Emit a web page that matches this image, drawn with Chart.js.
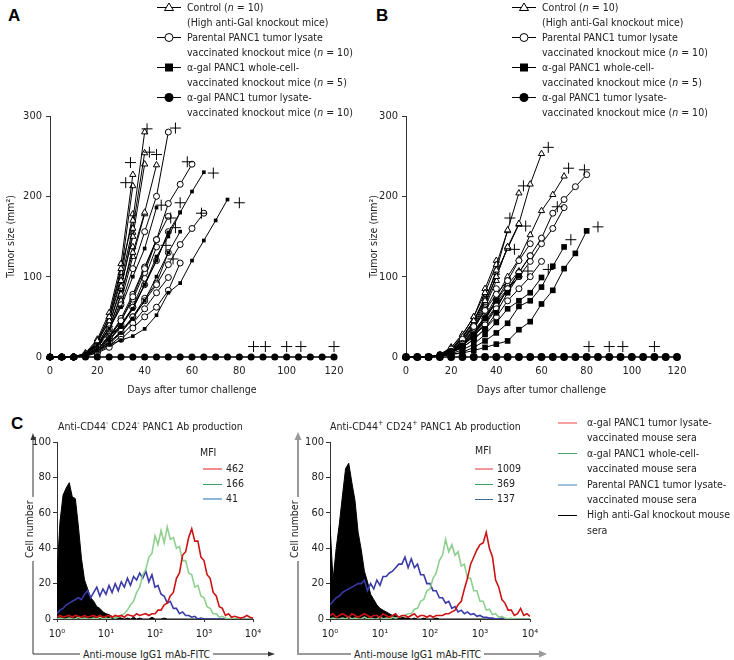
<!DOCTYPE html>
<html>
<head>
<meta charset="utf-8">
<script src="https://cdn.jsdelivr.net/npm/chart.js@4.4.1/dist/chart.umd.min.js"></script>
<style>
  body { margin:0; width:734px; height:660px; position:relative; overflow:hidden; background:#fff;
         font-family:'DejaVu Sans Condensed', 'DejaVu Sans', sans-serif; font-stretch:condensed; color:#222; }
  canvas, .abs { position:absolute; }
  .panel { font:bold 17px 'Liberation Sans', Arial, sans-serif; color:#000; }
  .legend { font-size:10.5px; line-height:15px; white-space:nowrap; }
  .legend .row { display:flex; }
  .legend svg { flex:none; margin-right:6px; }
  .small { font-size:10.5px; line-height:12px; white-space:nowrap; }
  .sw { display:inline-block; height:2px; vertical-align:middle; }
  .sleg { font-size:10.5px; line-height:15.4px; white-space:nowrap; }
  .sleg .sw { width:19px; margin-right:10px; }
  .bg { background:#fff; padding:0 3px; }
</style>
</head>
<body>

<div class="abs panel" style="left:8px;top:6px">A</div>
<div class="abs panel" style="left:376px;top:6px">B</div>
<div class="abs panel" style="left:11px;top:414px">C</div>

<canvas id="chartA" width="367" height="400" style="left:0;top:0"></canvas>
<canvas id="chartB" width="367" height="400" style="left:367px;top:0"></canvas>
<canvas id="histL" width="290" height="215" style="left:0;top:430px"></canvas>
<canvas id="histR" width="290" height="215" style="left:273px;top:430px"></canvas>

<div class="abs legend" style="left:157px;top:0">
  <div class="row"><svg width="24" height="15"><path d="M0 7.5H24" stroke="#000"/><polygon points="12,3 16.5,10.5 7.5,10.5" fill="#fff" stroke="#000"/></svg><div>Control (<i>n</i> = 10)<br>(High anti-Gal knockout mice)</div></div>
  <div class="row"><svg width="24" height="15"><path d="M0 7.5H24" stroke="#000"/><circle cx="12" cy="7.5" r="4" fill="#fff" stroke="#000"/></svg><div>Parental PANC1 tumor lysate<br>vaccinated knockout mice (<i>n</i> = 10)</div></div>
  <div class="row"><svg width="24" height="15"><path d="M0 7.5H24" stroke="#000"/><rect x="8" y="3.5" width="8" height="8" fill="#000"/></svg><div>α-gal PANC1 whole-cell-<br>vaccinated knockout mice (<i>n</i> = 5)</div></div>
  <div class="row"><svg width="24" height="15"><path d="M0 7.5H24" stroke="#000"/><circle cx="12" cy="7.5" r="4.5" fill="#000"/></svg><div>α-gal PANC1 tumor lysate-<br>vaccinated knockout mice (<i>n</i> = 10)</div></div>
</div>

<div class="abs legend" style="left:512px;top:0">
  <div class="row"><svg width="24" height="15"><path d="M0 7.5H24" stroke="#000"/><polygon points="12,3 16.5,10.5 7.5,10.5" fill="#fff" stroke="#000"/></svg><div>Control (<i>n</i> = 10)<br>(High anti-Gal knockout mice)</div></div>
  <div class="row"><svg width="24" height="15"><path d="M0 7.5H24" stroke="#000"/><circle cx="12" cy="7.5" r="4" fill="#fff" stroke="#000"/></svg><div>Parental PANC1 tumor lysate<br>vaccinated knockout mice (<i>n</i> = 10)</div></div>
  <div class="row"><svg width="24" height="15"><path d="M0 7.5H24" stroke="#000"/><rect x="8" y="3.5" width="8" height="8" fill="#000"/></svg><div>α-gal PANC1 whole-cell-<br>vaccinated knockout mice (<i>n</i> = 5)</div></div>
  <div class="row"><svg width="24" height="15"><path d="M0 7.5H24" stroke="#000"/><circle cx="12" cy="7.5" r="4.5" fill="#000"/></svg><div>α-gal PANC1 tumor lysate-<br>vaccinated knockout mice (<i>n</i> = 10)</div></div>
</div>

<!-- arrows of panel C -->
<svg class="abs" style="left:0;top:0" width="734" height="660">
  <path d="M33 440V654H268" stroke="#333" stroke-width="1" fill="none"/>
  <path d="M33 433l-2.5 7h5z" fill="#333"/>
  <path d="M275 654l-7-2.5v5z" fill="#333"/>
  <path d="M298 440V654H540" stroke="#999" stroke-width="2" fill="none"/>
  <path d="M298 432l-3.5 8h7z" fill="#999"/>
  <path d="M547 654l-8-3.5v7z" fill="#999"/>
</svg>

<div class="abs small" style="left:58px;top:417px">Anti-CD44<sup style="font-size:7px">-</sup> CD24<sup style="font-size:7px">-</sup> PANC1 Ab production</div>
<div class="abs small" style="left:330px;top:417px">Anti-CD44<sup style="font-size:7px">+</sup> CD24<sup style="font-size:7px">+</sup> PANC1 Ab production</div>

<div class="abs small bg" style="left:-2px;top:524px;transform:rotate(-90deg);transform-origin:31px 6px">Cell number</div>
<div class="abs small bg" style="left:263px;top:524px;transform:rotate(-90deg);transform-origin:31px 6px">Cell number</div>
<div class="abs small bg" style="left:80px;top:648px">Anti-mouse IgG1 mAb-FITC</div>
<div class="abs small bg" style="left:351px;top:648px">Anti-mouse IgG1 mAb-FITC</div>

<!-- MFI legends -->
<div class="abs small" style="left:200px;top:446px">MFI</div>
<div class="abs small" style="left:203px;top:462px"><span class="sw" style="width:19px;background:#f08c8c;margin-right:4px"></span>462</div>
<div class="abs small" style="left:203px;top:477px"><span class="sw" style="width:19px;background:#3e9e60;height:1px;margin-right:4px"></span>166</div>
<div class="abs small" style="left:203px;top:492px"><span class="sw" style="width:19px;background:#8cb6da;margin-right:4px"></span>41</div>

<div class="abs small" style="left:475px;top:444px">MFI</div>
<div class="abs small" style="left:475px;top:462px"><span class="sw" style="width:18px;background:#f29a9a;margin-right:4px"></span>1009</div>
<div class="abs small" style="left:475px;top:477px"><span class="sw" style="width:18px;background:#3e9e60;height:1px;margin-right:4px"></span>369</div>
<div class="abs small" style="left:475px;top:492px"><span class="sw" style="width:18px;background:#3c6c9c;height:1px;margin-right:4px"></span>137</div>

<div class="abs sleg" style="left:558px;top:415px">
  <div><span class="sw" style="background:#f4a0a0"></span>α-gal PANC1 tumor lysate-</div>
  <div style="padding-left:29px">vaccinated mouse sera</div>
  <div><span class="sw" style="background:#4aa86a;height:1px"></span>α-gal PANC1 whole-cell-</div>
  <div style="padding-left:29px">vaccinated mouse sera</div>
  <div><span class="sw" style="background:#9cc0de"></span>Parental PANC1 tumor lysate-</div>
  <div style="padding-left:29px">vaccinated mouse sera</div>
  <div><span class="sw" style="background:#000;height:1px"></span>High anti-Gal knockout mouse</div>
  <div style="padding-left:29px">sera</div>
</div>

<script>
'use strict';

// ************ DATA: tumour growth (panel A)
const daysA = [0, 5, 10, 15, 20, 25, 30, 35, 40, 45, 50, 55, 60, 65, 70, 75, 80, 85, 90, 95, 100, 105, 110, 115, 120];

const controlA = [
  [0, 0, 0, 4, 20, 50, 110, 170, 280],
  [0, 0, 0, 3, 18, 45, 95, 160, 254],
  [0, 0, 0, 3, 15, 40, 88, 150, 240],
  [0, 0, 0, 2, 12, 35, 78, 130, 180, 239],
  [0, 0, 0, 5, 22, 55, 116, 227],
  [0, 0, 0, 4, 20, 50, 105, 213],
  [0, 0, 0, 4, 18, 46, 100, 178],
  [0, 0, 0, 2, 12, 32, 70, 125, 178],
  [0, 0, 0, 3, 15, 40, 85, 155],
  [0, 0, 0, 3, 14, 36, 75, 137]
];
const parentalA = [
  [0, 0, 0, 3, 14, 35, 65, 110, 156, 200, 280],
  [0, 0, 0, 2, 10, 25, 45, 75, 110, 146, 191, 215, 240],
  [0, 0, 0, 2, 8, 18, 32, 50, 70, 90, 115, 140, 160, 179],
  [0, 0, 0, 1, 5, 12, 22, 36, 50, 62, 83, 117],
  [0, 0, 0, 2, 10, 25, 48, 78, 112, 146, 175],
  [0, 0, 0, 2, 9, 22, 40, 62, 90, 120, 156],
  [0, 0, 0, 2, 10, 24, 45, 72, 105, 146],
  [0, 0, 0, 2, 8, 20, 38, 62, 98, 137],
  [0, 0, 0, 1, 6, 14, 26, 42, 60, 80, 99],
  [0, 0, 0, 2, 7, 16, 30, 50, 73, 92, 130]
];
const wholeCellA = [
  [0, 0, 0, 4, 14, 25, 40, 60, 90, 125, 150, 180, 206, 230],
  [0, 0, 0, 3, 8, 15, 21, 26, 35, 52, 80, 92, 120, 145, 170, 196],
  [0, 0, 0, 3, 10, 22, 38, 60, 90, 120, 155, 180],
  [0, 0, 0, 4, 15, 35, 62, 100, 135, 186],
  [0, 0, 0, 2, 8, 18, 30, 48, 70, 100, 130, 156]
];
const lysateA = [0, 0, 0, 0, 0, 0, 0, 0, 0, 0, 0, 0, 0, 0, 0, 0, 0, 0, 0, 0, 0, 0, 0, 0, 0];
const deathDayA = [34, 32, 41, 42, 45, 53, 58, 69, 80, 55, 47, 64, 51, 53, 49, 52, 86, 91, 100, 106, 120];
const deathSizeA = [242, 217, 284, 255, 252, 285, 243, 229, 192, 192, 189, 179, 173, 161, 139, 122, 13, 13, 13, 13, 13];

// ************ DATA: tumour growth (panel B)
const daysB = [0, 5, 10, 15, 20, 25, 30, 35, 40, 45, 50, 55, 60, 65, 70, 75, 80, 85, 90, 95, 100, 105, 110, 115, 120, 125];

const controlB = [
  [0, 0, 0, 3, 10, 25, 45, 70, 108, 158, 204],
  [0, 0, 0, 3, 10, 24, 42, 68, 100, 137, 166, 215, 253],
  [0, 0, 0, 2, 8, 18, 32, 50, 75, 100, 122, 152, 182, 202, 225],
  [0, 0, 0, 3, 12, 28, 50, 80, 115, 157],
  [0, 0, 0, 3, 10, 25, 45, 72, 105, 135, 165],
  [0, 0, 0, 2, 9, 22, 40, 65, 100, 137],
  [0, 0, 0, 2, 8, 18, 32, 50, 70, 90, 107],
  [0, 0, 0, 3, 12, 28, 50, 85, 120],
  [0, 0, 0, 2, 8, 20, 38, 62, 95],
  [0, 0, 0, 2, 10, 25, 45, 75]
];
const parentalB = [
  [0, 0, 0, 2, 6, 14, 26, 40, 60, 85, 105, 126, 148, 179, 196, 212, 227],
  [0, 0, 0, 2, 7, 16, 28, 44, 64, 84, 100, 119, 141, 160, 186],
  [0, 0, 0, 2, 7, 16, 30, 48, 70, 95, 120, 141],
  [0, 0, 0, 2, 6, 14, 26, 42, 62, 84, 105, 126],
  [0, 0, 0, 2, 7, 17, 30, 48, 68, 85, 100],
  [0, 0, 0, 3, 10, 22, 38, 58, 78, 95],
  [0, 0, 0, 2, 8, 20, 36, 58, 85],
  [0, 0, 0, 1, 5, 12, 22, 35, 50, 70, 85, 100, 119],
  [0, 0, 0, 2, 8, 18, 34, 60],
  [0, 0, 0, 1, 5, 14, 28, 46, 70]
];
const wholeCellB = [
  [0, 0, 0, 1, 3, 5, 8, 12, 16, 20, 34, 44, 66, 83, 110, 129, 157],
  [0, 0, 0, 1, 3, 6, 12, 20, 30, 42, 63, 70, 87, 113, 137],
  [0, 0, 0, 1, 4, 9, 16, 28, 43, 60, 70, 80, 99],
  [0, 0, 0, 2, 6, 12, 22, 35, 55, 80, 101],
  [0, 0, 0, 2, 6, 14, 28, 48, 70]
];
const lysateB = [0, 0, 0, 0, 0, 0, 0, 0, 0, 0, 0, 0, 0, 0, 0, 0, 0, 0, 0, 0, 0, 0, 0, 0, 0, 0];
const deathDayB = [63, 72, 79, 52, 46, 53, 67, 48, 73, 85, 54, 63, 81, 90, 96, 110, 125];
const deathSizeB = [261, 235, 233, 213, 173, 163, 187, 134, 146, 162, 107, 109, 13, 13, 13, 13, 13];

// ************ DATA: flow cytometry histograms (panel C)
const fitcChannels = [1, 1.15, 1.33, 1.54, 1.78, 2.05, 2.37, 2.74, 3.16, 3.65, 4.22, 4.87, 5.62, 6.49, 7.5, 8.66,
  10, 11.5, 13.3, 15.4, 17.8, 20.5, 23.7, 27.4, 31.6, 36.5, 42.2, 48.7, 56.2, 64.9, 75, 86.6,
  100, 115, 133, 154, 178, 205, 237, 274, 316, 365, 422, 487, 562, 649, 750, 866,
  1000, 1155, 1334, 1540, 1778, 2054, 2371, 2738, 3162, 3652, 4217, 4870, 5623, 6494, 7499, 8660, 10000];
const decadeValues = [1, 10, 100, 1000, 10000];
const decadeLabels = ['10\u2070', '10\u00b9', '10\u00b2', '10\u00b3', '10\u2074'];

// CD44- CD24- cells
const blackLeft = [25, 55, 70, 74, 77, 69, 68, 52, 34, 22, 17, 12, 10, 7, 6, 4, 3, 2.5, 1.5, 1,
  1, 0.5, 0, 0.5, 0, 1, 0, 0.5, 0, 0, 0, 1, 0, 0, 0, 0.5, 0, 0, 0, 0,
  0, 0, 0, 0, 0, 0, 0, 0, 0, 0, 0, 0, 0, 0, 0, 0, 0, 0, 0, 0, 0, 0, 0, 0, 0];
const blueLeft = [3, 5, 6, 8, 9, 10, 11, 12, 11, 14, 16, 12, 15, 18, 13, 17, 14, 19, 15, 20,
  16, 21, 18, 23, 19, 24, 22, 26, 23, 27, 21, 25, 18, 19, 14, 13, 9, 10, 6, 6,
  3, 4, 2, 2, 1, 1.5, 0, 0.5, 0, 0, 0, 0, 0, 0, 0, 0, 0, 0, 0, 0, 0, 0, 0, 0, 0];
const greenLeft = [0, 0.5, 0, 0, 0.5, 0, 0, 1, 0, 0.5, 0, 0, 0.5, 0, 1, 0, 0.5, 0, 1, 0.5,
  1, 2, 3, 5, 8, 10, 15, 18, 25, 28, 35, 37, 47, 42, 50, 43, 52, 45, 46, 40,
  41, 33, 33, 26, 25, 18, 19, 13, 12, 7, 6, 3, 3, 1, 1.5, 0.5, 0, 0.5, 0, 0, 0.5, 0, 0, 0, 0];
const redLeft = [1, 2, 1, 1.5, 2, 1, 2, 1.5, 1, 2, 1, 1.5, 2, 1, 2, 1, 1.5, 2, 1, 2,
  1.5, 2, 1, 2.5, 2, 1.5, 3, 2, 2.5, 3, 2, 3, 3, 5, 5, 8, 9, 13, 15, 23,
  26, 36, 38, 46, 51, 44, 44, 35, 33, 25, 23, 15, 13, 7, 6, 2, 3, 1, 1.5, 1, 0.5, 1, 2, 1, 0.5];

// CD44+ CD24+ cells
const blackRight = [53, 22, 40, 54, 70, 85, 88, 77, 67, 49, 39, 27, 21, 14, 11, 8, 6, 5, 4, 3,
  2, 2, 1, 1, 0.5, 0.5, 0, 0.5, 0, 0, 0.5, 0, 0, 0, 0.5, 0, 0, 0, 0, 0,
  0, 0, 0, 0, 0, 0, 0, 0, 0, 0, 0, 0, 0, 0, 0, 0, 0, 0, 0, 0, 0, 0, 0, 0, 0];
const blueRight = [8, 10, 12, 13, 15, 16, 17, 18, 19, 20, 20, 22, 16, 20, 17, 22, 19, 24, 24, 26,
  27, 29, 31, 31, 35, 29, 34, 29, 31, 25, 25, 20, 20, 16, 16, 12, 12, 9, 10, 6,
  7, 4, 5, 3, 4, 2.5, 3, 1.5, 2, 1, 1, 0.5, 0.5, 0, 0, 0.5, 0, 0, 0, 0, 0, 0, 0, 0, 0];
const greenRight = [0, 0.5, 0, 0, 0.5, 0, 1, 0, 0.5, 0, 0, 1, 0, 0.5, 0, 0, 1, 0, 0.5, 0,
  1, 0.5, 1, 1.5, 2, 3, 3, 5.5, 6, 10, 11, 16, 17, 23, 26, 33, 36, 45, 38, 42,
  36, 38, 30, 31, 23, 23, 16, 16, 10, 10, 5, 5.5, 2.5, 3, 1, 1.5, 0.5, 0, 0.5, 0, 0, 0, 0, 0, 0];
const redRight = [2, 3, 1, 2, 3, 2, 1, 3, 2, 1, 2, 3, 2, 1, 2, 2, 1, 3, 2, 1,
  2, 3, 1, 2, 2, 1, 2, 3, 1, 2, 2, 1, 2, 1, 2, 2, 2, 3, 3, 4,
  5, 8, 10, 17, 23, 31, 35, 39, 42, 43, 49, 40, 35, 22, 18, 11, 9, 5, 5, 2, 3, 6, 2, 3, 1.5];

// ************ CHART HELPERS
Chart.defaults.font.family = "'DejaVu Sans Condensed', 'DejaVu Sans', sans-serif";
Chart.defaults.font.size = 11;
Chart.defaults.color = '#222';

function pairs(xs, ys) {
  return ys.map((y, i) => ({ x: xs[i], y: y }));
}

// one line per mouse, all in the same marker style
function mouseSets(list, days, marker) {
  return list.map(vals => Object.assign({
    data: pairs(days, vals), showLine: true, borderColor: '#000', borderWidth: 1, clip: false
  }, marker));
}

function tumorSets(days, ctrl, par, wc, lys, dDay, dSize, big) {
  const cross = { data: pairs(dDay, dSize), showLine: false, pointStyle: 'cross', pointRadius: 5.5,
    pointBorderColor: '#000', pointBorderWidth: 1, clip: false };
  const lysLine = { data: pairs(days, lys), showLine: true, borderColor: '#000', borderWidth: 1.5,
    pointStyle: 'circle', pointRadius: big ? 3.2 : 2.8, pointBackgroundColor: '#000', pointBorderColor: '#000', clip: false };
  return [cross, lysLine]
    .concat(mouseSets(wc, days, { pointStyle: 'rect', pointRadius: big ? 4 : 2.6, pointBackgroundColor: '#000', pointBorderColor: '#000', pointBorderWidth: 0 }))
    .concat(mouseSets(par, days, { pointStyle: 'circle', pointRadius: 3, pointBackgroundColor: '#fff', pointBorderColor: '#000', pointBorderWidth: 1 }))
    .concat(mouseSets(ctrl, days, { pointStyle: 'triangle', pointRadius: 3.6, pointBackgroundColor: '#fff', pointBorderColor: '#000', pointBorderWidth: 1 }));
}

function tumorChart(id, sets, yAxisW, padRight, titlePad) {
  return new Chart(document.getElementById(id), {
    type: 'scatter',
    data: { datasets: sets },
    options: {
      animation: false, responsive: false, devicePixelRatio: 1,
      layout: { padding: { top: 116, right: padRight, left: 0, bottom: 0 } },
      plugins: { legend: { display: false }, tooltip: { enabled: false } },
      scales: {
        x: {
          type: 'linear', min: 0, max: 120,
          ticks: { stepSize: 20, padding: 8, color: '#222' },
          grid: { display: false, drawTicks: false },
          border: { display: false },
          title: { display: true, text: 'Days after tumor challenge', color: '#222', font: { size: 10.5 }, padding: { top: 0, bottom: 3 } },
          afterFit: s => { s.height = 43; }
        },
        y: {
          min: 0, max: 300,
          ticks: { stepSize: 100, padding: 4, color: '#222' },
          grid: { drawOnChartArea: false, tickLength: 4, color: '#333' },
          border: { display: true, color: '#333' },
          title: { display: true, text: 'Tumor size (mm\u00b2)', color: '#222', font: { size: 10.5 }, padding: { top: titlePad, bottom: 0 } },
          afterFit: s => { s.width = yAxisW; }
        }
      }
    }
  });
}

function histSets(red, green, blue, black) {
  const base = { pointRadius: 0, tension: 0, fill: false, borderWidth: 1.6 };
  return [
    Object.assign({ data: pairs(fitcChannels, red), borderColor: '#cc1414' }, base),
    Object.assign({ data: pairs(fitcChannels, green), borderColor: '#8fd08f' }, base),
    Object.assign({ data: pairs(fitcChannels, blue), borderColor: '#3a3aa8' }, base),
    Object.assign({ data: pairs(fitcChannels, black), borderColor: '#000', backgroundColor: '#000' }, base, { fill: 'origin', borderWidth: 1 })
  ];
}

function histChart(id, sets, padRight, axisColor) {
  return new Chart(document.getElementById(id), {
    type: 'line',
    data: { datasets: sets },
    options: {
      animation: false, responsive: false, devicePixelRatio: 1,
      layout: { padding: { top: 12, right: padRight, left: 0, bottom: 0 } },
      plugins: { legend: { display: false }, tooltip: { enabled: false } },
      scales: {
        x: {
          type: 'logarithmic', min: 1, max: 10000,
          afterBuildTicks: s => { s.ticks = decadeValues.map(v => ({ value: v })); },
          ticks: { callback: v => decadeLabels[decadeValues.indexOf(v)], padding: 6, autoSkip: false, maxRotation: 0, color: '#222' },
          grid: { drawOnChartArea: false, tickLength: 3, color: axisColor },
          border: { color: axisColor },
          afterFit: s => { s.height = 26; }
        },
        y: {
          min: 0, max: 100,
          ticks: { stepSize: 20, padding: 2, color: '#222' },
          grid: { drawOnChartArea: false, tickLength: 4, color: axisColor },
          border: { color: axisColor },
          afterFit: s => { s.width = 57; }
        }
      }
    }
  });
}

// ************ RENDER
tumorChart('chartA', tumorSets(daysA, controlA, parentalA, wholeCellA, lysateA, deathDayA, deathSizeA, false), 50, 33, 5);
tumorChart('chartB', tumorSets(daysB, controlB, parentalB, wholeCellB, lysateB, deathDayB, deathSizeB, true), 39, 57, 1);
histChart('histL', histSets(redLeft, greenLeft, blueLeft, blackLeft), 37, '#333');
histChart('histR', histSets(redRight, greenRight, blueRight, blackRight), 33, '#333');
</script>
</body>
</html>
